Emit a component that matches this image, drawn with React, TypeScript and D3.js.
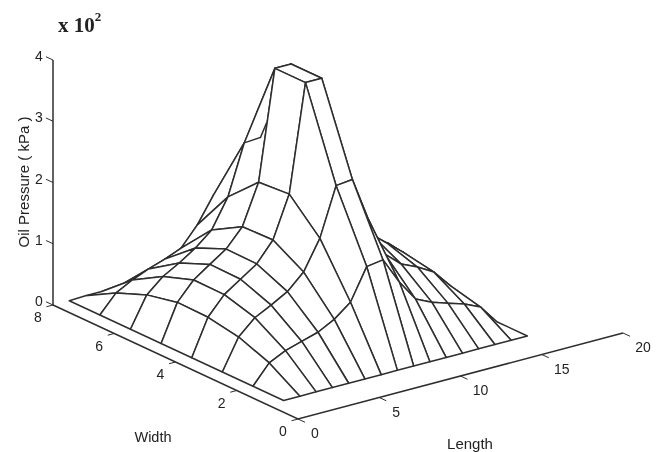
import React, { useEffect, useRef } from "react";
import * as d3 from "d3";

const lengthTicks = [0, 5, 10, 15, 20];
const widthTicks = [0, 2, 4, 6, 8];
const pressureTicks = [0, 1, 2, 3, 4];

const lengthNodes = d3.range(1, 17);
const widthNodes = [1, 2, 3, 4, 5, 6, 7, 8];

// oil pressure, one list per width, length 1..16
const pressureW1 = [0, 0, 0, 0, 0, 0, 0, 0, 0, 0, 0, 0, 0, 0, 0, 0];
const pressureW2 = [0, 0.31, 0.44, 0.52, 0.6, 0.74, 0.95, 1.46, 1.5, 1.07, 0.72, 0.6, 0.51, 0.43, 0.31, 0];
const pressureW3 = [0, 0.5, 0.745, 0.88, 1.03, 1.28, 1.76, 2.55, 2.58, 1.85, 1.22, 0.99, 0.87, 0.72, 0.43, 0];
const pressureW4 = [0, 0.59, 0.89, 1.07, 1.25, 1.57, 2.25, 4, 4, 1.9, 1.5, 1.25, 1.03, 0.81, 0.56, 0];
const pressureW5 = [0, 0.6, 0.895, 1.08, 1.26, 1.555, 2.21, 4, 4, 2.2, 1.7, 1.25, 1.0, 0.81, 0.65, 0];
const pressureW6 = [0, 0.49, 0.72, 0.87, 1.045, 1.27, 1.74, 2.55, 2.57, 1.9, 1.4, 1.05, 0.8, 0.62, 0.5, 0];
const pressureW7 = [0, 0.29, 0.43, 0.54, 0.63, 0.74, 1.05, 1.47, 1.53, 1.2, 0.9, 0.7, 0.55, 0.42, 0.3, 0];
const pressureW8 = [0, 0.01, 0.01, 0.02, 0.02, 0.03, 0.05, 0.08, 0.08, 0.06, 0.05, 0.04, 0.03, 0.02, 0.01, 0];
const pressure = [pressureW1, pressureW2, pressureW3, pressureW4, pressureW5, pressureW6, pressureW7, pressureW8];

const ink = "#2e2e2e";
const sans = "'Liberation Sans', Arial, sans-serif";

export default function App() {
  const svgRef = useRef<SVGSVGElement>(null);

  useEffect(() => {
    const svg = d3.select(svgRef.current);
    svg.selectAll("*").remove();

    // corner of the box on screen, each scale gives the screen offset along one axis
    const origin = { x: 298, y: 419 };
    const lengthX = d3.scaleLinear().domain([0, 20]).range([0, 325]);
    const lengthY = d3.scaleLinear().domain([0, 20]).range([0, -86]);
    const widthX = d3.scaleLinear().domain([0, 8]).range([0, -245]);
    const widthY = d3.scaleLinear().domain([0, 8]).range([0, -114]);
    const pressureY = d3.scaleLinear().domain([0, 4]).range([0, -245]);

    const project = (l: number, w: number, z: number): [number, number] => [
      origin.x + lengthX(l) + widthX(w),
      origin.y + lengthY(l) + widthY(w) + pressureY(z),
    ];

    const line = d3.line<[number, number]>();
    const closed = d3.line<[number, number]>().curve(d3.curveLinearClosed);

    const addLine = (pts: [number, number][], width = 1.5) =>
      svg
        .append("path")
        .attr("d", line(pts))
        .attr("fill", "none")
        .attr("stroke", ink)
        .attr("stroke-width", width);

    const addText = (x: number, y: number, text: string, size = 14) =>
      svg
        .append("text")
        .attr("x", x)
        .attr("y", y)
        .attr("text-anchor", "middle")
        .attr("font-family", sans)
        .attr("font-size", size)
        .attr("fill", "#222")
        .text(text);

    // axes
    addLine([project(0, 8, 0), project(0, 0, 0), project(20, 0, 0)]);
    addLine([project(0, 8, 0), project(0, 8, 4)]);

    lengthTicks.forEach((t) => {
      addLine([project(t, 0, 0), project(t, -0.23, 0)], 1);
      const [x, y] = project(t, 0, 0);
      addText(x + (t >= 10 ? 20 : 17), y + 19, String(t));
    });
    widthTicks.forEach((t) => {
      addLine([project(0, t, 0), project(-0.4, t, 0)], 1);
      const [x, y] = project(0, t, 0);
      addText(x - 15, y + 17, String(t));
    });
    pressureTicks.forEach((t) => {
      addLine([project(0, 8, t), project(0, 8.23, t)], 1);
      const [x, y] = project(0, 8, t);
      addText(x - 14, y + 1, String(t));
    });

    // surface, far cells first so the near ones cover them
    for (let i = widthNodes.length - 2; i >= 0; i--) {
      for (let j = lengthNodes.length - 2; j >= 0; j--) {
        const cell: [number, number][] = [
          project(lengthNodes[j], widthNodes[i], pressure[i][j]),
          project(lengthNodes[j + 1], widthNodes[i], pressure[i][j + 1]),
          project(lengthNodes[j + 1], widthNodes[i + 1], pressure[i + 1][j + 1]),
          project(lengthNodes[j], widthNodes[i + 1], pressure[i + 1][j]),
        ];
        svg
          .append("path")
          .attr("d", closed(cell))
          .attr("fill", "#fff")
          .attr("stroke", ink)
          .attr("stroke-width", 1.5)
          .attr("stroke-linejoin", "round");
      }
    }

    // the original plot lets this bit of the width 6 row show through near the peak
    const a = project(9, 6, pressure[5][8]);
    const b = project(9, 5, pressure[4][8]);
    addLine([project(8, 6, pressure[5][7]), a, [a[0] + (b[0] - a[0]) * 0.2, a[1] + (b[1] - a[1]) * 0.2]]);

    // titles
    addText(153, 442, "Width", 14.5);
    addText(470, 449, "Length", 15);
    svg
      .append("text")
      .attr("transform", "translate(29,182) rotate(-90)")
      .attr("text-anchor", "middle")
      .attr("font-family", sans)
      .attr("font-size", 15)
      .attr("fill", "#222")
      .text("Oil Pressure ( kPa )");

    const scale = svg
      .append("text")
      .attr("x", 58)
      .attr("y", 32)
      .attr("font-family", "'Liberation Serif', serif")
      .attr("font-weight", "bold")
      .attr("font-size", 21)
      .attr("fill", "#222");
    scale.append("tspan").text("x 10");
    scale.append("tspan").attr("dy", -11).attr("font-size", 13).text("2");
  }, []);

  return (
    <svg
      ref={svgRef}
      width={657}
      height={452}
      style={{ position: "absolute", left: 0, top: 0, background: "#fff", filter: "blur(0.4px)" }}
    />
  );
}
